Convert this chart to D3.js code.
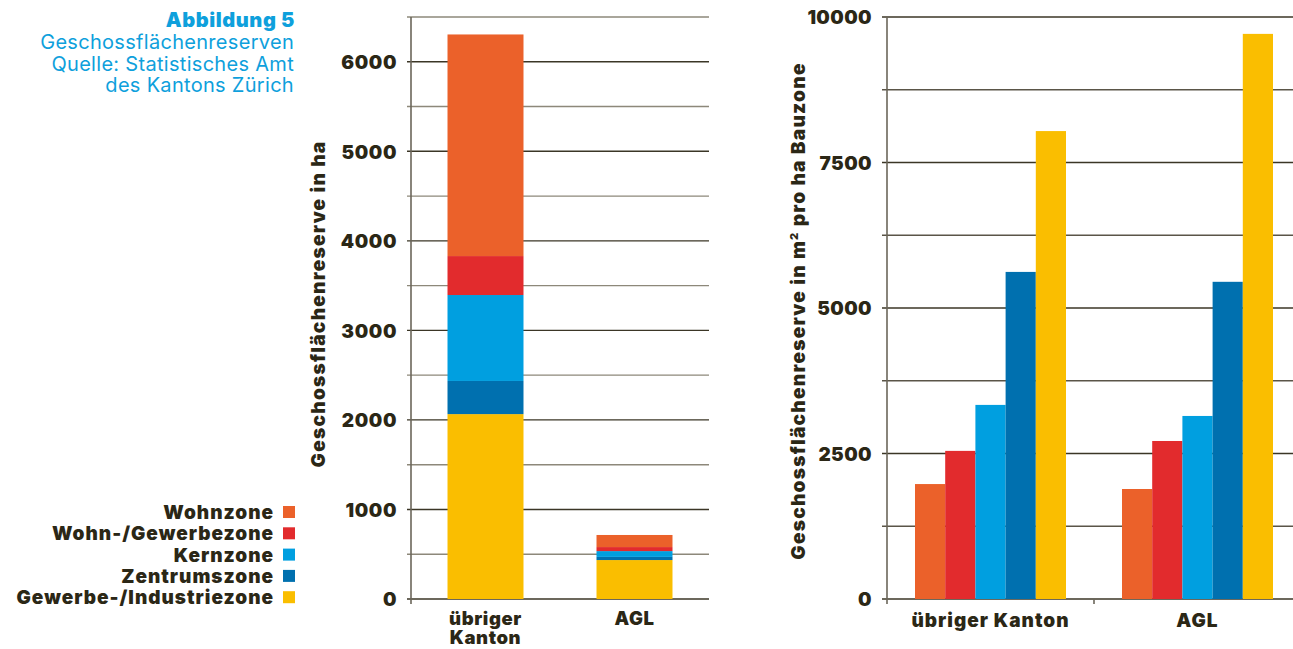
<!DOCTYPE html>
<html lang="de">
<head>
<meta charset="utf-8">
<title>Geschossflächenreserven</title>
<script src="https://cdn.jsdelivr.net/npm/d3@7"></script>
<style>
  body { margin: 0; background: #fff; }
  text { font-family: "Inter", "Liberation Sans", sans-serif; fill: #2b2716; }
  .heavy { font-weight: 900; }
  .title { fill: #0ea0dc; }
</style>
</head>
<body>
<script>
// data
var categories = ["übriger Kanton", "AGL"];
var zones = ["Wohnzone", "Wohn-/Gewerbezone", "Kernzone", "Zentrumszone", "Gewerbe-/Industriezone"];
var zoneColors = ["#eb612a", "#e22b2d", "#009fe0", "#0070af", "#fabe00"];

// Geschossflächenreserve in ha, per category (order of zones)
var reserveHaUebriger = [2475, 435, 960, 370, 2065];
var reserveHaAGL = [135, 45, 65, 35, 435];

// Geschossflächenreserve in m2 pro ha Bauzone
var reserveM2Uebriger = [1975, 2545, 3335, 5620, 8040];
var reserveM2AGL = [1890, 2715, 3145, 5450, 9710];

var leftTicks = d3.range(0, 6501, 500);
var rightTicks = d3.range(0, 10001, 1250);

var w = 1293, h = 649;
var svg = d3.select("body").append("svg")
    .attr("width", w)
    .attr("height", h);

// ---- title block
var titleLines = ["Geschossflächenreserven", "Quelle: Statistisches Amt", "des Kantons Zürich"];
svg.append("text")
    .attr("class", "heavy title")
    .attr("x", 295).attr("y", 27)
    .attr("text-anchor", "end")
    .attr("font-size", "20px")
    .style("letter-spacing", "0.6px")
    .text("Abbildung 5");
svg.selectAll("text.sub")
    .data(titleLines)
    .enter().append("text")
    .attr("class", "sub title")
    .attr("x", 294)
    .attr("y", function(d, i) { return 49 + i * 21.5; })
    .attr("text-anchor", "end")
    .attr("font-size", "20px")
    .attr("font-family", "Liberation Sans, Arial, sans-serif")
    .style("letter-spacing", "0.3px")
    .text(function(d) { return d; });

// ---- legend
var legend = svg.selectAll("g.legend")
    .data(zones)
    .enter().append("g")
    .attr("class", "legend")
    .attr("transform", function(d, i) { return "translate(0," + (512 + i * 21.3) + ")"; });
legend.append("rect")
    .attr("x", 283).attr("y", -6)
    .attr("width", 12).attr("height", 12)
    .attr("fill", function(d, i) { return zoneColors[i]; });
legend.append("text")
    .attr("class", "heavy")
    .attr("x", 274).attr("y", 7)
    .attr("text-anchor", "end")
    .attr("font-size", "19px")
    .style("letter-spacing", "1px")
    .text(function(d) { return d; });

// ---- left chart: stacked bars
var xL = d3.scaleBand().domain(categories).range([411, 709]).paddingInner(0.49).paddingOuter(0.245);
var yL = d3.scaleLinear().domain([0, 6500]).range([599, 17]);

svg.selectAll("line.gridL")
    .data(leftTicks)
    .enter().append("line")
    .attr("x1", 407).attr("x2", 709)
    .attr("y1", function(d) { return yL(d); })
    .attr("y2", function(d) { return yL(d); })
    .attr("stroke", function(d) { return d % 1000 === 0 ? "#3b3626" : "#8d887a"; })
    .attr("stroke-width", 1.4);

var stackRows = categories.map(function(c, i) {
    var vals = i === 0 ? reserveHaUebriger : reserveHaAGL;
    var row = { cat: c };
    zones.forEach(function(z, j) { row[z] = vals[j]; });
    return row;
});
// stack bottom-up: Gewerbe first
var stack = d3.stack().keys(zones.slice().reverse());
var layers = stack(stackRows);

svg.selectAll("g.layer")
    .data(layers)
    .enter().append("g")
    .attr("class", "layer")
    .attr("fill", function(d) { return zoneColors[zones.indexOf(d.key)]; })
    .selectAll("rect")
    .data(function(d) { return d; })
    .enter().append("rect")
    .attr("x", function(d) { return xL(d.data.cat); })
    .attr("width", xL.bandwidth())
    .attr("y", function(d) { return yL(d[1]); })
    .attr("height", function(d) { return yL(d[0]) - yL(d[1]); });

var axisL = svg.append("g")
    .attr("transform", "translate(411,0)")
    .call(d3.axisLeft(yL)
        .tickValues(d3.range(0, 6001, 1000))
        .tickSize(0)
        .tickPadding(14)
        .tickFormat(d3.format("d")));
axisL.select(".domain").remove();
axisL.selectAll("text").attr("class", "heavy").attr("font-size", "19px").attr("dy", "0.36em")
    .style("letter-spacing", "0.6px");
svg.append("line")
    .attr("x1", 411).attr("x2", 411)
    .attr("y1", yL(6500)).attr("y2", 604)
    .attr("stroke", "#6b665a").attr("stroke-width", 1.6);

// left category labels, one text per line
var catLinesL = [["übriger", "Kanton"], ["AGL"]];
var catLabelsL = [];
categories.forEach(function(c, i) {
    catLinesL[i].forEach(function(t, k) {
        catLabelsL.push({ cat: c, text: t, line: k });
    });
});
svg.selectAll("text.catL")
    .data(catLabelsL)
    .enter().append("text")
    .attr("class", "heavy catL")
    .attr("x", function(d) { return xL(d.cat) + xL.bandwidth() / 2; })
    .attr("y", function(d) { return 625 + d.line * 19; })
    .attr("text-anchor", "middle")
    .attr("font-size", "18.5px")
    .style("letter-spacing", "0.6px")
    .text(function(d) { return d.text; });

svg.append("text")
    .attr("class", "heavy")
    .attr("transform", "translate(325,304) rotate(-90)")
    .attr("text-anchor", "middle")
    .attr("font-size", "19px")
    .style("letter-spacing", "1.3px")
    .text("Geschossflächenreserve in ha");

// ---- right chart: grouped bars
var xR = d3.scaleBand().domain(categories).range([887, 1301]);
var xSub = d3.scaleBand().domain(zones).range([28, xR.bandwidth() - 28]);
var yR = d3.scaleLinear().domain([0, 10000]).range([599, 17]);

svg.selectAll("line.gridR")
    .data(rightTicks)
    .enter().append("line")
    .attr("x1", 882).attr("x2", 1301)
    .attr("y1", function(d) { return yR(d); })
    .attr("y2", function(d) { return yR(d); })
    .attr("stroke", function(d) { return d % 2500 === 0 ? "#3b3626" : "#5a5548"; })
    .attr("stroke-width", 1.4);

var groups = svg.selectAll("g.grp")
    .data(categories)
    .enter().append("g")
    .attr("class", "grp")
    .attr("transform", function(d) { return "translate(" + xR(d) + ",0)"; });
groups.selectAll("rect")
    .data(function(d, i) {
        var vals = i === 0 ? reserveM2Uebriger : reserveM2AGL;
        return zones.map(function(z, j) { return { zone: z, value: vals[j], color: zoneColors[j] }; });
    })
    .enter().append("rect")
    .attr("x", function(d) { return xSub(d.zone); })
    .attr("width", xSub.bandwidth())
    .attr("y", function(d) { return yR(d.value); })
    .attr("height", function(d) { return yR(0) - yR(d.value); })
    .attr("fill", function(d) { return d.color; });

var axisR = svg.append("g")
    .attr("transform", "translate(887,0)")
    .call(d3.axisLeft(yR)
        .tickValues(d3.range(0, 10001, 2500))
        .tickSize(0)
        .tickPadding(15)
        .tickFormat(d3.format("d")));
axisR.select(".domain").remove();
axisR.selectAll("text").attr("class", "heavy").attr("font-size", "19px").attr("dy", "0.36em")
    .style("letter-spacing", "0.4px");
svg.append("line")
    .attr("x1", 887).attr("x2", 887)
    .attr("y1", yR(10000)).attr("y2", 604)
    .attr("stroke", "#6b665a").attr("stroke-width", 1.6);
svg.append("line")
    .attr("x1", xR(categories[1])).attr("x2", xR(categories[1]))
    .attr("y1", 599).attr("y2", 604)
    .attr("stroke", "#6b665a").attr("stroke-width", 1.6);

svg.selectAll("text.catR")
    .data(categories)
    .enter().append("text")
    .attr("class", "heavy catR")
    .attr("x", function(d) { return xR(d) + xR.bandwidth() / 2; })
    .attr("y", 627)
    .attr("text-anchor", "middle")
    .attr("font-size", "19px")
    .style("letter-spacing", "1px")
    .text(function(d) { return d; });

var yTitleR = svg.append("text")
    .attr("class", "heavy")
    .attr("transform", "translate(805,311) rotate(-90)")
    .attr("text-anchor", "middle")
    .attr("font-size", "19px")
    .style("letter-spacing", "1.3px");
yTitleR.append("tspan").text("Geschossflächenreserve in m");
yTitleR.append("tspan").attr("font-size", "11px").attr("dy", "-7").text("2");
yTitleR.append("tspan").attr("dy", "7").text(" pro ha Bauzone");
</script>
</body>
</html>
